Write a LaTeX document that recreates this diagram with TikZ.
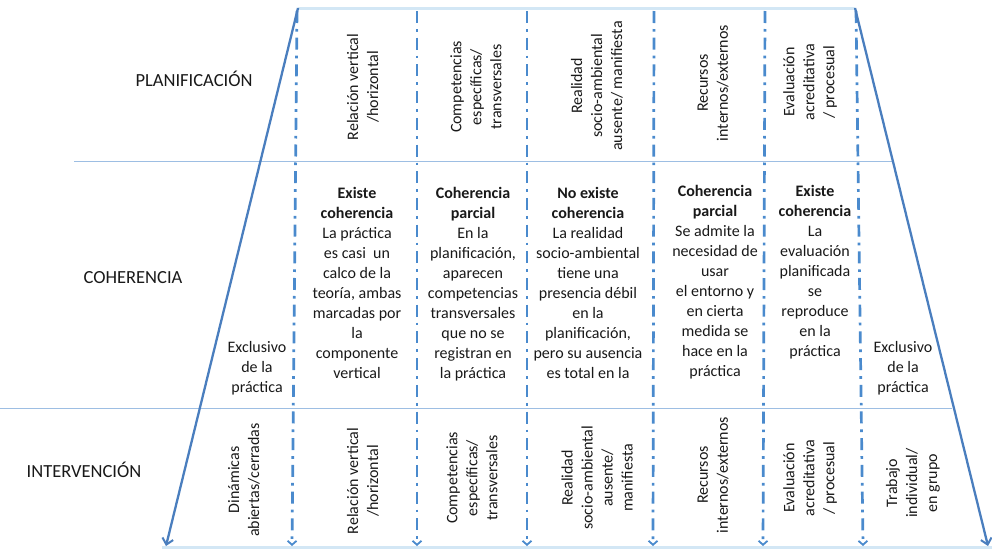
\documentclass[tikz,border=0pt]{standalone}
\usepackage{fontspec}
\setmainfont{Carlito}
\usetikzlibrary{arrows.meta}
\definecolor{dashblue}{HTML}{4A8ACD}
\definecolor{solidblue}{HTML}{4A7EBE}
\definecolor{thinblue}{HTML}{9DBEE3}
\definecolor{paleblue}{HTML}{D3E7F5}
\begin{document}
\begin{tikzpicture}[x=1pt,y=-1pt,
  every node/.style={font=\fontsize{16}{20}\selectfont, inner sep=0pt, align=center, text=black!90},
  heading/.style={font=\fontsize{18.5}{22}\selectfont},
  vtext/.style={rotate=90},
  celltext/.style={anchor=north},
  divider/.style={dashblue, line width=2.7pt, dash pattern=on 12pt off 6pt on 2.7pt off 6pt, -{Straight Barb[length=4pt,width=9pt,line width=1.8pt]}},
  slant/.style={solidblue, line width=2.3pt, -{Straight Barb[length=6pt,width=11pt,line width=2pt]}},
  rowline/.style={thinblue, line width=1pt},
  edgeline/.style={paleblue, line width=3pt},
]
\useasboundingbox (0,0) rectangle (992,549);

% coordinates
\coordinate (tl) at (298,8);
\coordinate (tr) at (855,8);
\coordinate (bl) at (166,546);
\coordinate (br) at (988,546);
\coordinate (bedgeL) at (162,547);
\coordinate (bedgeR) at (992,547);
\coordinate (r1L) at (74,161);
\coordinate (r1R) at (893,161);
\coordinate (r2L) at (0,408);
\coordinate (r2R) at (952,408);
\foreach \n/\xa/\xb in {1/297/292, 2/417/417, 3/527/527, 4/654/653, 5/765/763, 6/856/863} {
  \coordinate (d\n t) at (\xa,11);
  \coordinate (d\n b) at (\xb,546);
}

% lines
\draw[edgeline] (tl) -- (tr);
\draw[edgeline] (bedgeL) -- (bedgeR);
\draw[rowline] (r1L) -- (r1R);
\draw[rowline] (r2L) -- (r2R);
\foreach \n in {1,...,6} { \draw[divider] (d\n t) -- (d\n b); }
\draw[slant] (tl) -- (bl);
\draw[slant] (tr) -- (br);

% row headings
\node[heading] (hplan) at (194,79) {PLANIFICACIÓN};
\node[heading] (hcoh) at (133,278) {COHERENCIA};
\node[heading] (hint) at (84,470) {INTERVENCIÓN};

% top row (planificación)
\node[vtext] (p1) at (363,87) {Relación vertical\\/horizontal};
\node[vtext] (p2) at (476,87) {Competencias\\específicas/\\transversales};
\node[vtext] (p3) at (597,86) {Realidad\\socio-ambiental\\ausente/ manifiesta};
\node[vtext] (p4) at (713,83) {Recursos\\internos/externos};
\node[vtext] (p5) at (810,82) {Evaluación\\acreditativa\\/ procesual};

% middle row (coherencia)
\node[celltext] (c0) at (257,341) {Exclusivo\\de la\\práctica};
\node[celltext] (c1) at (357,187) {\textbf{Existe}\\\textbf{coherencia}\\La práctica\\es casi\ \ un\\calco de la\\teoría, ambas\\marcadas por\\la\\componente\\vertical};
\node[celltext] (c2) at (473,187) {\textbf{Coherencia}\\\textbf{parcial}\\En la\\planificación,\\aparecen\\competencias\\transversales\\que no se\\registran en\\la práctica};
\node[celltext] (c3) at (588,187) {\textbf{No existe}\\\textbf{coherencia}\\La realidad\\socio-ambiental\\tiene una\\presencia débil\\en la\\planificación,\\pero su ausencia\\es total en la};
\node[celltext] (c4) at (715,185) {\textbf{Coherencia}\\\textbf{parcial}\\Se admite la\\necesidad de\\usar\\el entorno y\\en cierta\\medida se\\hace en la\\práctica};
\node[celltext] (c5) at (815,185) {\textbf{Existe}\\\textbf{coherencia}\\La\\evaluación\\planificada\\se\\reproduce\\en la\\práctica};
\node[celltext] (c6) at (903,341) {Exclusivo\\de la\\práctica};

% bottom row (intervención)
\node[vtext] (i0) at (244,480) {Dinámicas\\abiertas/cerradas};
\node[vtext] (i1) at (363,481) {Relación vertical\\/horizontal};
\node[vtext] (i2) at (472,478) {Competencias\\específicas/\\transversales};
\node[vtext] (i3) at (597,478) {Realidad\\socio-ambiental\\ausente/\\manifiesta};
\node[vtext] (i4) at (713,475) {Recursos\\internos/externos};
\node[vtext] (i5) at (810,478) {Evaluación\\acreditativa\\/ procesual};
\node[vtext] (i6) at (913,483) {Trabajo\\individual/\\en grupo};
\end{tikzpicture}
\end{document}
